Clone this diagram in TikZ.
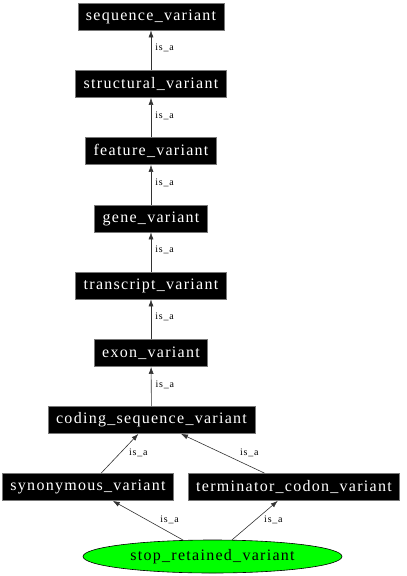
\documentclass[tikz,border=0pt]{standalone}
\usepackage{fontspec}
\usetikzlibrary{shapes.geometric,arrows.meta}
\newfontfamily\nodefont[LetterSpace=8]{Liberation Serif}
\newfontfamily\labfont[LetterSpace=8]{Liberation Serif}
\definecolor{boxgray}{RGB}{120,120,120}
\definecolor{ellgreen}{RGB}{0,255,0}
\tikzset{
  term/.style={rectangle, fill=black, draw=boxgray, line width=0.7pt, text=white,
    font=\nodefont\fontsize{16}{18}\selectfont, minimum height=27pt, inner xsep=8pt, inner ysep=0pt},
  leaf/.style={ellipse, fill=ellgreen, draw=black, line width=0.6pt, text=black,
    font=\nodefont\fontsize{16}{18}\selectfont, minimum width=259pt, minimum height=33pt, inner sep=0pt},
  edge/.style={draw=black!80, line width=0.6pt, -{Latex[length=7pt,width=5pt]}},
  lbl/.style={font=\labfont\fontsize{10}{11}\selectfont, text=black, inner sep=0pt}
}
\begin{document}
\begin{tikzpicture}[x=1pt,y=-1pt]
\useasboundingbox (0,0) rectangle (407,576);
\node[term] (sv)  at (151,16.5) {sequence\_variant};
\node[term] (stv) at (151,84) {structural\_variant};
\node[term] (fv)  at (151,151) {feature\_variant};
\node[term] (gv)  at (151,218.5) {gene\_variant};
\node[term] (tv)  at (151,285.5) {transcript\_variant};
\node[term] (ev)  at (151,353) {exon\_variant};
\node[term] (csv) at (151.5,420) {coding\_sequence\_variant};
\node[term] (syn) at (88,487) {synonymous\_variant};
\node[term] (tcv) at (294,487) {terminator\_codon\_variant};
\node[leaf] (srv) at (212.5,556.5) {stop\_retained\_variant};

\draw[edge] (stv) -- node[lbl, anchor=west, xshift=4pt, yshift=2pt] {is\_a} (sv);
\draw[edge] (fv)  -- node[lbl, anchor=west, xshift=4pt, yshift=2pt] {is\_a} (stv);
\draw[edge] (gv)  -- node[lbl, anchor=west, xshift=4pt, yshift=2pt] {is\_a} (fv);
\draw[edge] (tv)  -- node[lbl, anchor=west, xshift=4pt, yshift=2pt] {is\_a} (gv);
\draw[edge] (ev)  -- node[lbl, anchor=west, xshift=4pt, yshift=2pt] {is\_a} (tv);
\draw[edge] (csv) -- node[lbl, anchor=west, xshift=4pt, yshift=2pt] {is\_a} (ev);
\draw[edge] (syn) -- node[lbl, anchor=west, xshift=9pt, yshift=1pt] {is\_a} (csv);
\draw[edge] (tcv) -- node[lbl, anchor=west, xshift=17pt, yshift=1pt] {is\_a} (csv);
\draw[edge] (srv) -- node[lbl, anchor=west, xshift=12pt, yshift=1pt] {is\_a} (syn);
\draw[edge] (srv) -- node[lbl, anchor=west, xshift=9pt, yshift=1pt] {is\_a} (tcv);
\end{tikzpicture}
\end{document}
